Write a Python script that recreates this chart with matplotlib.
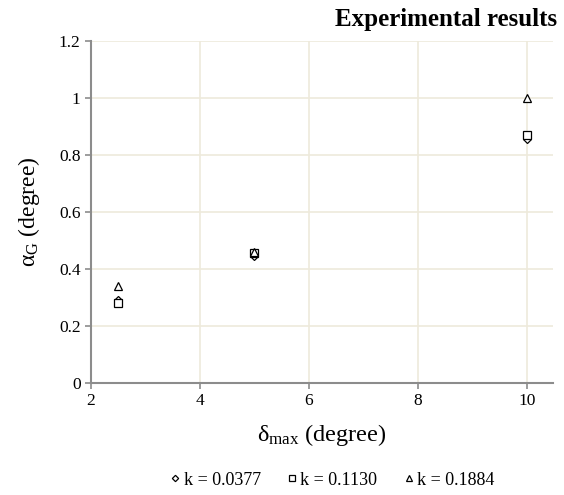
import numpy as np
import matplotlib
matplotlib.use("Agg")
import matplotlib.pyplot as plt

plt.rcParams['font.family'] = ['Liberation Serif', 'DejaVu Serif']
plt.rcParams['mathtext.fontset'] = 'custom'
plt.rcParams['mathtext.rm'] = 'Liberation Serif'
plt.rcParams['mathtext.it'] = 'Liberation Serif:italic'

# data
delta_max = [2.5, 5, 10]
labels = ['k = 0.0377', 'k = 0.1130', 'k = 0.1884']
alpha_k1 = [0.29, 0.445, 0.855]
alpha_k2 = [0.28, 0.456, 0.87]
alpha_k3 = [0.34, 0.46, 1.0]
series = [alpha_k1, alpha_k2, alpha_k3]
markers = ['D', 's', '^']
msizes = [4, 6, 6]

fig = plt.figure(figsize=(5.64, 4.95), dpi=100)
ax = fig.add_axes([0.1613, 0.2263, 0.8192, 0.6907])

for y, m, s, lab in zip(series, markers, msizes, labels):
    ax.plot(delta_max, y, linestyle='none', marker=m, markersize=s,
            markerfacecolor='white', markeredgecolor='black',
            markeredgewidth=0.9, label=lab)

ax.set_xlim(2, 10.48)
ax.set_ylim(0, 1.2)
ax.set_xticks([2, 4, 6, 8, 10])
ax.set_yticks([0, 0.2, 0.4, 0.6, 0.8, 1.0, 1.2])
ax.set_yticklabels(['0', '0.2', '0.4', '0.6', '0.8', '1', '1.2'])
ax.grid(True, color='#eeeadb', linewidth=1.2)
ax.set_axisbelow(True)
for side in ['top', 'right']:
    ax.spines[side].set_visible(False)
for side in ['left', 'bottom']:
    ax.spines[side].set_color('#8c8c8c')
    ax.spines[side].set_linewidth(1.5)
ax.tick_params(colors='#8c8c8c', labelcolor='black', labelsize=12.5,
               length=4, width=1.2, direction='out')

ax.set_xlabel(r'$\mathrm{\delta_{max}}$ (degree)', fontsize=17.5, labelpad=9)
ax.set_ylabel(r'$\mathrm{\alpha_{G}}$ (degree)', fontsize=17, labelpad=12)
fig.text(0.988, 0.96, 'Experimental results', ha='right', va='center',
         fontsize=18, fontweight='bold')

ax.legend(loc='center', bbox_to_anchor=(0.59, 0.03), bbox_transform=fig.transFigure,
          ncol=3, frameon=False, fontsize=13, handlelength=0.5,
          handletextpad=0.2, columnspacing=1.5, markerscale=0.8)

fig.savefig('out.png', dpi=100)
